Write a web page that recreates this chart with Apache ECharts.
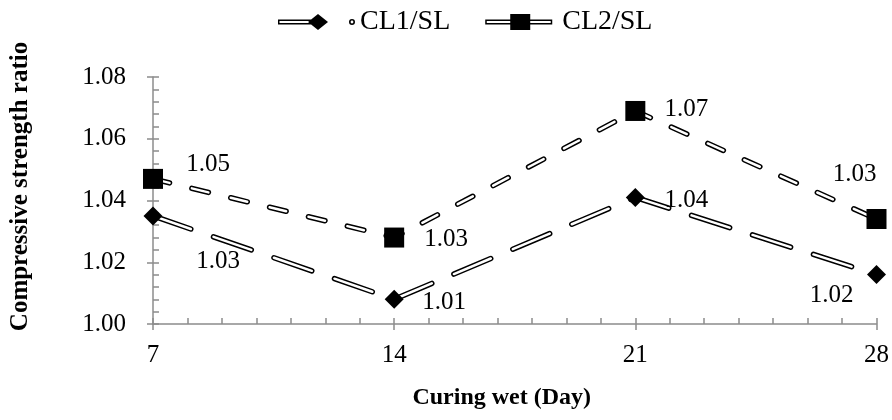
<!DOCTYPE html>
<html>
<head>
<meta charset="utf-8">
<script src="https://cdn.jsdelivr.net/npm/echarts@6/dist/echarts.min.js"></script>
<style>html,body{margin:0;padding:0;background:#fff}#c{width:892px;height:420px}</style>
</head>
<body>
<div id="c"></div>
<script>
// ---- data ----
var days = [7, 14, 21, 28];
var cl1 = [1.035, 1.008, 1.041, 1.016];
var cl2 = [1.047, 1.028, 1.069, 1.034];
var seriesNames = ['CL1/SL', 'CL2/SL'];
var yTicks = [1.00, 1.02, 1.04, 1.06, 1.08];
var xTitle = 'Curing wet (Day)';
var yTitle = 'Compressive strength ratio';

// ---- styles ----
var FONT = '"Liberation Serif","Times New Roman",serif';
var AXC = '#8c8c8c';
var cl1LabelOffsets = [[65, 45], [50, 3], [51, 3], [-45, 21]];
var cl2LabelOffsets = [[55, -14], [52, 2], [51, -2], [-22, -45]];
var cl1Dash = [40, 24];
var cl2Dash = [17, 23];

function pts(vals, offs) {
  return vals.map(function (v, i) {
    return {
      value: [days[i], v],
      label: { show: true, position: 'inside', offset: offs[i] }
    };
  });
}
function rawPts(vals) {
  return vals.map(function (v, i) { return [days[i], v]; });
}
function labelFmt(p) { return p.value[1].toFixed(2); }

function outline(name, vals, dash) {
  return {
    type: 'line', name: name, data: rawPts(vals), symbol: 'none', z: 2,
    lineStyle: { color: '#000', width: 5.5, type: dash, cap: 'round', join: 'round' },
    itemStyle: { color: '#000' }, silent: true
  };
}
function inner(name, vals, dash, offs, symbol, size) {
  return {
    type: 'line', name: name, data: pts(vals, offs), symbol: symbol, symbolSize: size, z: 3,
    lineStyle: { color: '#fff', width: 2.5, type: dash, cap: 'round', join: 'round' },
    itemStyle: { color: '#000' },
    label: { show: true, formatter: labelFmt, color: '#000', fontFamily: FONT, fontSize: 25 }
  };
}

var cl1Icon = 'path://M0 5.5H40V10.5H0Z M1.5 7V9H38.5V7Z M30 8L40 0L50 8L40 16Z ' +
  'M71 8A3 3 0 1 1 77 8A3 3 0 1 1 71 8Z M72.6 8A1.4 1.4 0 1 0 75.4 8A1.4 1.4 0 1 0 72.6 8Z';
var cl2Icon = 'path://M0 8L0 8Z M77 8L77 8Z M5 5.5H72V10.5H5Z M6.5 7V9H70.5V7Z M30 0H50V16H30Z';

var option = {
  animation: false,
  backgroundColor: '#fff',
  legend: {
    top: 3, left: 273, itemWidth: 77, itemHeight: 16, itemGap: 30,
    textStyle: { fontFamily: FONT, fontSize: 28, color: '#000' },
    data: [
      { name: seriesNames[0], icon: cl1Icon, itemStyle: { color: '#000' } },
      { name: seriesNames[1], icon: cl2Icon, itemStyle: { color: '#000' } }
    ]
  },
  grid: { left: 150, right: 14, top: 77, bottom: 96 },
  xAxis: [{
    type: 'value', min: 7, max: 28, interval: 7,
    name: xTitle, nameLocation: 'middle', nameGap: 62,
    nameTextStyle: { fontFamily: FONT, fontSize: 24, fontWeight: 'bold', color: '#000',
      padding: [0, 26, 0, 0] },
    axisLine: { lineStyle: { color: AXC, width: 1.5 } },
    axisTick: { show: true, length: 6, lineStyle: { color: AXC, width: 1.5 } },
    axisLabel: { fontFamily: FONT, fontSize: 25, color: '#000', margin: 19 },
    splitLine: { show: false }
  }, {
    type: 'value', min: 7, max: 28, interval: 7, position: 'bottom',
    axisLine: { show: false },
    axisTick: { show: true, inside: true, length: 6, lineStyle: { color: AXC, width: 1.5 } },
    minorTick: { show: true, splitNumber: 7, length: 6, lineStyle: { color: AXC, width: 1.5 } },
    axisLabel: { show: false }, splitLine: { show: false }
  }],
  yAxis: [{
    type: 'value', min: yTicks[0], max: yTicks[yTicks.length - 1], interval: 0.02,
    name: yTitle, nameLocation: 'middle', nameGap: 120, nameRotate: 90,
    nameTextStyle: { fontFamily: FONT, fontSize: 25, fontWeight: 'bold', color: '#000',
      padding: [0, 0, 0, 28] },
    axisLine: { show: true, lineStyle: { color: AXC, width: 1.5 } },
    axisTick: { show: true, length: 6, lineStyle: { color: AXC, width: 1.5 } },
    axisLabel: { fontFamily: FONT, fontSize: 25, color: '#000', margin: 27,
      formatter: function (v) { return v.toFixed(2); } },
    splitLine: { show: false }
  }, {
    type: 'value', min: yTicks[0], max: yTicks[yTicks.length - 1], interval: 0.02, position: 'left',
    axisLine: { show: false },
    axisTick: { show: true, inside: true, length: 6, lineStyle: { color: AXC, width: 1.5 } },
    minorTick: { show: true, splitNumber: 5, length: 6, lineStyle: { color: AXC, width: 1.5 } },
    axisLabel: { show: false }, splitLine: { show: false }
  }],
  series: [
    outline(seriesNames[1], cl2, cl2Dash),
    inner(seriesNames[1], cl2, cl2Dash, cl2LabelOffsets, 'rect', 20),
    outline(seriesNames[0], cl1, cl1Dash),
    inner(seriesNames[0], cl1, cl1Dash, cl1LabelOffsets, 'diamond', 19)
  ]
};
var chart = echarts.init(document.getElementById('c'), null, { renderer: 'canvas' });
chart.setOption(option);
</script>
</body>
</html>
